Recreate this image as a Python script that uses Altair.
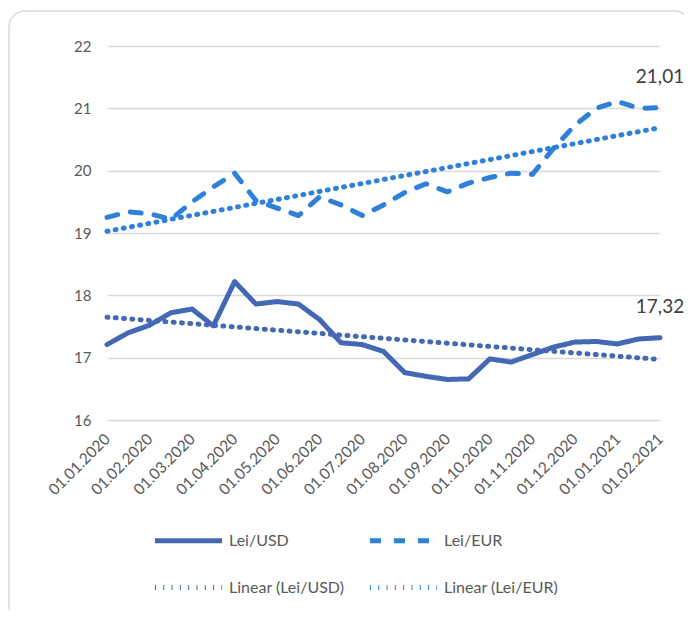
import altair as alt
import pandas as pd

dates = ["01.01.2020", "15.01.2020", "01.02.2020", "15.02.2020", "01.03.2020", "15.03.2020",
         "01.04.2020", "15.04.2020", "01.05.2020", "15.05.2020", "01.06.2020", "15.06.2020",
         "01.07.2020", "15.07.2020", "01.08.2020", "15.08.2020", "01.09.2020", "15.09.2020",
         "01.10.2020", "15.10.2020", "01.11.2020", "15.11.2020", "01.12.2020", "15.12.2020",
         "01.01.2021", "15.01.2021", "01.02.2021"]
tick_labels = ["01.01.2020", "01.02.2020", "01.03.2020", "01.04.2020", "01.05.2020",
               "01.06.2020", "01.07.2020", "01.08.2020", "01.09.2020", "01.10.2020",
               "01.11.2020", "01.12.2020", "01.01.2021", "01.02.2021"]
usd = [17.21, 17.40, 17.52, 17.72, 17.78, 17.51, 18.22, 17.86, 17.90, 17.86, 17.61, 17.24,
       17.21, 17.10, 16.76, 16.70, 16.65, 16.66, 16.98, 16.93, 17.05, 17.17, 17.25, 17.26,
       17.22, 17.30, 17.32]
eur = [19.25, 19.34, 19.31, 19.22, 19.50, 19.74, 19.96, 19.52, 19.40, 19.28, 19.58, 19.45,
       19.28, 19.45, 19.65, 19.79, 19.66, 19.80, 19.89, 19.96, 19.94, 20.36, 20.73, 21.00,
       21.11, 21.00, 21.01]
series_names = ["Lei/USD", "Lei/EUR", "Linear (Lei/USD)", "Linear (Lei/EUR)"]
y_ticks = [16, 17, 18, 19, 20, 21, 22]

colors = ["#4468B4", "#2F80D9", "#4468B4", "#2F80D9"]
dashes = [[1, 0], [11, 13], [1, 7.3], [1, 7.3]]
widths = [5, 5, 3, 3]

rows = []
for i, d in enumerate(dates):
    rows.append({"i": i, "date": d, "series": "Lei/USD", "value": usd[i]})
    rows.append({"i": i, "date": d, "series": "Lei/EUR", "value": eur[i]})
df = pd.DataFrame(rows)

FONT = "Lato"
label_arr = "[" + ",".join("'%s'" % t for t in tick_labels) + "]"

leg = alt.Legend(
    title=None, orient="none", legendX=45, legendY=458, columns=2, direction="horizontal",
    symbolType="stroke", symbolSize=4500, labelFont=FONT, labelFontSize=16,
    labelColor="#595959", labelOffset=4, columnPadding=14, rowPadding=-23,
)

x_enc = alt.X("i:Q", scale=alt.Scale(domain=[0, len(dates) - 1], nice=False, zero=False),
              axis=alt.Axis(title=None, values=list(range(0, len(dates), 2)),
                            labelExpr=label_arr + "[round(datum.value/2)]",
                            labelAngle=-45, labelAlign="right", labelBaseline="middle",
                            labelPadding=16, labelFont=FONT, labelFontSize=15.5,
                            labelOverlap=False, labelBound=False, labelFlush=False,
                            labelColor="#595959", grid=False, domain=False, ticks=False))
y_enc = alt.Y("value:Q", scale=alt.Scale(domain=[16, 22], nice=False, zero=False),
              axis=alt.Axis(title=None, values=y_ticks, format="d", labelFont=FONT,
                            labelFontSize=15, labelColor="#595959", labelPadding=16, grid=True,
                            gridColor="#d9d9d9", gridWidth=1.5, domain=False, ticks=False))
color_enc = alt.Color("series:N", scale=alt.Scale(domain=series_names, range=colors), legend=leg)
dash_enc = alt.StrokeDash("series:N", scale=alt.Scale(domain=series_names, range=dashes), legend=leg)
width_enc = alt.StrokeWidth("series:N", scale=alt.Scale(domain=series_names, range=widths), legend=leg)

base = alt.Chart(df)

lines = base.mark_line(strokeCap="round", strokeJoin="round").encode(
    x=x_enc, y=y_enc, color=color_enc, strokeDash=dash_enc, strokeWidth=width_enc,
    detail="series:N")

trends = base.transform_regression("i", "value", groupby=["series"]).transform_calculate(
    series='"Linear (" + datum.series + ")"'
).mark_line(strokeCap="round").encode(
    x=x_enc, y=y_enc, color=color_enc, strokeDash=dash_enc, strokeWidth=width_enc,
    detail="series:N")

labels = base.transform_filter(alt.datum.i == len(dates) - 1).transform_calculate(
    txt="replace(format(datum.value, '.2f'), '.', ',')"
).mark_text(font=FONT, fontSize=19, color="#404040", dy=-31, baseline="middle").encode(
    x=x_enc, y=y_enc, text="txt:N")

frame = alt.Chart(pd.DataFrame({"a": [0]})).mark_rect(
    fill="transparent", stroke="#d9d9d9", strokeWidth=1.5, cornerRadius=16
).encode(x=alt.value(-98), y=alt.value(-35), x2=alt.value(583), y2=alt.value(600))

chart = alt.layer(frame, trends, lines, labels).properties(
    width=553, height=374,
    background="white",
    autosize=alt.AutoSizeParams(type="none"),
    padding={"left": 99, "top": 38, "right": 24, "bottom": 190},
).configure_view(stroke="transparent", strokeWidth=0).configure_axisX(
    grid=False, domain=False, ticks=False
).configure_axisY(domain=False, ticks=False)

chart.save("out.html", embed_options={"renderer": "svg", "actions": False})
